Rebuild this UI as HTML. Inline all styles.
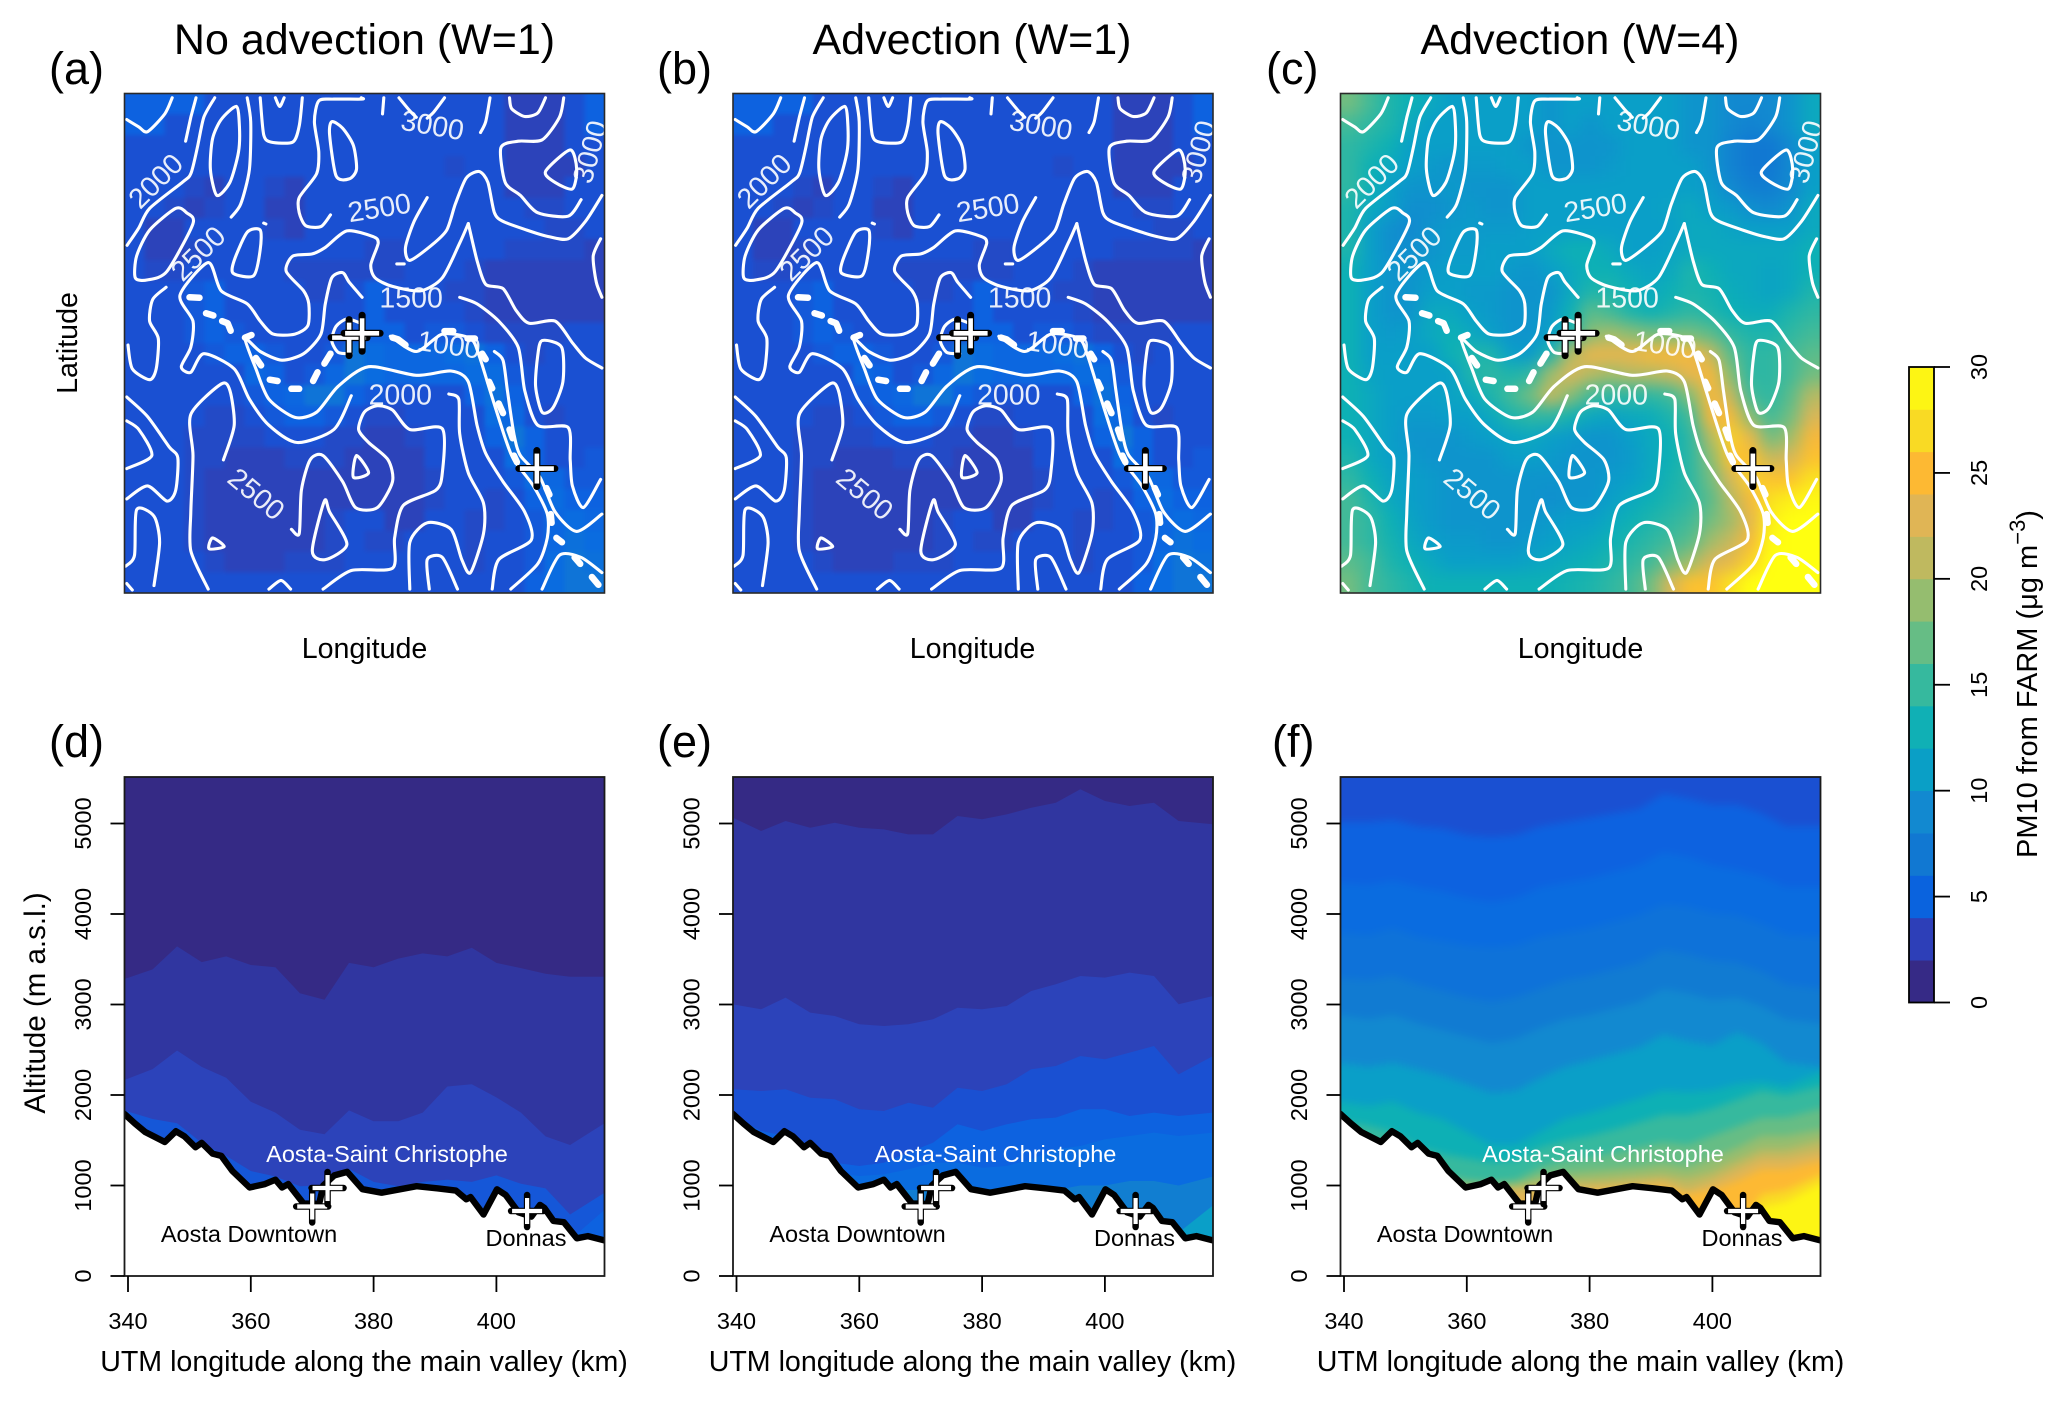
<!DOCTYPE html>
<html lang="en">
<head>
<meta charset="utf-8">
<title>PM10 from FARM: maps and valley cross-sections</title>
<style>
  html, body { margin: 0; padding: 0; background: #fff; }
  svg { display: block; font-family: "Liberation Sans", "DejaVu Sans", sans-serif; fill: #000; }
  .title { font-size: 43px; text-anchor: middle; }
  .tag { font-size: 45px; }
  .axis-title { font-size: 28.6px; text-anchor: middle; }
  .tick-text { font-size: 23.5px; text-anchor: middle; }
  .place { font-size: 23.5px; text-anchor: middle; }
</style>
</head>
<body>
<svg id="figure" xmlns="http://www.w3.org/2000/svg" width="2067" height="1401" viewBox="0 0 2067 1401">
  <defs>
    <filter id="soft-a" filterUnits="userSpaceOnUse" x="0" y="0" width="2067" height="700" color-interpolation-filters="sRGB"><feGaussianBlur stdDeviation="2.2"/></filter>
    <filter id="soft-c" filterUnits="userSpaceOnUse" x="0" y="0" width="2067" height="700" color-interpolation-filters="sRGB"><feGaussianBlur stdDeviation="8"/></filter>
    <filter id="soft-s" filterUnits="userSpaceOnUse" x="0" y="700" width="2067" height="701" color-interpolation-filters="sRGB"><feGaussianBlur stdDeviation="4"/></filter>
  </defs>

  <text class="title" x="364.5" y="54">No advection (W=1)</text>
  <text class="title" x="972" y="54">Advection (W=1)</text>
  <text class="title" x="1580" y="54">Advection (W=4)</text>

  <text class="tag" x="49" y="84">(a)</text>
  <text class="tag" x="657" y="84">(b)</text>
  <text class="tag" x="1266" y="84">(c)</text>
  <text class="tag" x="49" y="757">(d)</text>
  <text class="tag" x="657" y="757">(e)</text>
  <text class="tag" x="1272" y="757">(f)</text>

  <g id="map-a"></g>
  <g id="map-b"></g>
  <g id="map-c"></g>
  <g id="sec-d"></g>
  <g id="sec-e"></g>
  <g id="sec-f"></g>

  <text class="axis-title" x="364.5" y="658">Longitude</text>
  <text class="axis-title" x="972.5" y="658">Longitude</text>
  <text class="axis-title" x="1580.5" y="658">Longitude</text>
  <text class="axis-title" transform="translate(77 343) rotate(-90)">Latitude</text>

  <text class="axis-title" transform="translate(45 1003) rotate(-90)" style="font-size:29.5px">Altitude (m a.s.l.)</text>
  <text class="axis-title" x="364" y="1371">UTM longitude along the main valley (km)</text>
  <text class="axis-title" x="972.5" y="1371">UTM longitude along the main valley (km)</text>
  <text class="axis-title" x="1580.5" y="1371">UTM longitude along the main valley (km)</text>

  <g id="colorbar"></g>
  <text transform="translate(2037 858) rotate(-90)" style="font-size:29px">PM10 from FARM (<tspan>μ</tspan>g m<tspan dy="-12" style="font-size:22px">−3</tspan><tspan dy="12">)</tspan></text>
</svg>

<script>
/* ---------- colour scale ---------- */
const rampValues = [0, 1, 1.5, 2, 3, 4, 5, 6.5, 8, 10, 12, 14.5, 16.5, 18.5, 20.5, 22.5, 24.5, 26.5, 28.5, 30];
const rampColors = ['#352a85', '#352a85', '#3036a0', '#2c43ba', '#1a50d2', '#0d62e0', '#0a6ce0', '#1178d2', '#1289d0', '#0a9fc8', '#0db0b5', '#36b99e', '#66bd85', '#95bd6f', '#bfb95f', '#e0b555', '#fdb933', '#f9da24', '#fdf514', '#ffff10'];
const barColors = ['#362a86', '#2d3fb8', '#0a63de', '#1178d2', '#1289d0', '#0a9fc6', '#10b0b5', '#36b99e', '#66bd85', '#95bd6f', '#bfb95f', '#e0b555', '#fdb933', '#f9da24', '#fdf514'];
const barTicks = [0, 5, 10, 15, 20, 25, 30];

/* ---------- maps: PM10 value per grid cell, rows north to south ---------- */
const heatA = [
[4,4,4,4,3,3,3,3,3,3,3,3,3,3,3,3,3,3,3,2,2,2,3,4],
[4,4,3,3,3,3,3,3,3,3,3,3,3,3,3,3,3,3,3,2,2,2,3,4],
[3,3,3,3,3,3,3,3,3,3,3,3,3,3,3,3,3,3,3,2,2,2,3,3],
[3,3,3,3,3,3,3,3,3,3,3,3,3,3,3,3,2.6,3,3,2,2,2,2,3],
[3,3,3,2.5,2,3,3,2.5,2,3,3,3,3,3,3,3,3,3,3,2,2,2,3,3],
[3,3,2.5,2,2.5,3,3,2,2,3,3,3,3,3,3,3,3,3,3,3,2.5,2.5,3,3],
[3,2,2,3,3,3,3,2.5,2,3,3,3,3,3,3,3,3,3,3,3,3,2.5,2.5,3],
[3,2,2,2.5,3,3,3,3,3,3,3,3,2.5,2.5,3,3,3,3,3,2.5,2.5,2.5,2.5,2],
[3,2.5,2.5,3,3,3,3,3,2.5,2.5,2.5,2.5,2.5,2.5,3,3,3,2.5,2,2,2,2,2,2],
[3,3,3,3.5,4,3,3,3,3,2.5,2.5,3,4,3,3,3,2.5,2.5,2,2,2,2,2,2],
[3,3,3,3.5,4,3,3,3,3,3,3,3,4,3,3,3,3,2.5,2,2,2,2,2,2],
[3,3,3,3.5,4,3.5,3,3,3,3,3,3.5,4,4,3,3.5,3.5,3,2.5,2.5,2.5,2.5,3,3],
[3,3,3,3,3.5,4,4,3.5,3,3,3.5,6,5,4.5,4.5,4.5,5,5.5,4,3,2.5,3,3,3],
[3,3,3,3,3,3,4.5,4,3,3.5,4.5,6,5,4.5,4.5,4.5,4.5,5,5,3.5,3,3,3,3],
[3,3,3,3,3,3,3.5,4,4.5,6,6,4,3.5,3,3,3,3,4,5.5,4,3,3,3,3],
[3,3,3,3,2.5,2.5,3,3.5,4,4,3.5,3,2.5,2.5,3,3,3,3,5,4.5,3,2.5,3,3],
[3,3,3,2.5,2.5,2.5,2.5,3,3,3,2.5,2.5,2,2,2.5,3,3,3,4,6,4,3,3,3],
[3,3,3,2.5,2.5,2,2,2,2.5,2.5,2.5,2,2,2,2,3,3,3,3,5,4,3,3,3.5],
[3,3,3,2.5,2,2,2,2,2,2,2,2,2,2,2,2.5,3,3,3,3.5,5,4.5,3.5,3.5],
[3,3,3,2.5,2,2,2,2,2,2,2,2,2,2,2,2.5,3,3,2.5,3,4,5,4,4],
[3,3,3,2.5,2,2,2,2,2,2,2.5,3,3,2,2,3,3,2.5,2.5,3,3.5,4.5,5,4.5],
[3,3,3,2.5,2,2,2,2,2,2,2.5,3,2.5,2.5,3,3,3,2.5,3,3,3.5,4.5,5.5,5],
[3,3,3,3,2.5,2,2,2,2.5,2.5,2.5,3,3,3,3,3,3,2.5,3,3,3.5,5,6,5.5],
[3,3,3,3,3,3,3,3,3,3,3,3,3,3,3,3,3,3,3,3,4,5,6,6]
];
const heatB = heatA;
const heatC = [
[17,15,13,12,11,10,10,10,10,10,9,10,10,10,10,10,10,9,9,8,8,8,9,11],
[15,14,13,11,10,10,10,10,10,10,9,10,9,10,10,10,10,9,9,8,7.5,8,9,11],
[14,13,12,10,10,10,10,10,10,9,9,9,9,9,10,10,10,9,9,7.5,6.5,6.5,8,10],
[14,12,11,10,9.5,9,9.5,9.5,10,10,9,9,9,9.5,10,10,10,10,9,7.5,6.5,6.5,8,10],
[14,12,10,9,9,9.5,9,9,9,10,10,10,10,10,10,10,10,10,9.5,8,7,7,8,10],
[13,11,10,8.5,8.5,9,9.5,9,9,10,10,10,10,10,10,10,10.5,11,10,9.5,8.5,8,9,11],
[13,10,8.5,8,9,9.5,9.5,9.5,9.5,10,10,10,10,10,10,10,10,11,11,10.5,10,10,10,11],
[13,10,8.5,8.5,9,9.5,9.5,10,10,10,11,12,12,11,10,10,10.5,11,11,11,11,11,11,12],
[12,10,9,9,9.5,10,10,10,9.5,9,10,11,12,12,11,10.5,11,13,12,11,11,10.5,11,12],
[12,10,9,9,10,10,9.5,9.5,9,9,9,11,13,13,12,11,12,13,12.5,11.5,11,10.5,11,13],
[12,10,9,9,11,11,10,9.5,9,9,9.5,12,16,15,13,12,13,14,13,12,11.5,11.5,13,14],
[12,10,9.5,10,11,12,11,10,9,9,10,13,18,19,18,17,17,17,16,14,13,13,14,15],
[12,10,10,10,10,12,13,13,10,9.5,13,20,23,23,23,24,24,24,21,16,14,14,15,16],
[12,10.5,10,10,10,10,13,14,13,14,19,22,20,19,20,20,21,23,24,18,14,14,15,17],
[12,11,10,10,10,10.5,11,13,15,17,21,18,15,14,14,14,15,18,24,21,15,14,16,20],
[12,11,10,9.5,9.5,10,10,11,13,14,14,12.5,11,10.5,11,11.5,13,15,24,24,18,15,17,22],
[12,11,10,9,9,9,9.5,10,10.5,11,10,9.5,9,9,10,11,12,14,20,26,23,17,19,24],
[13,11,10,9.5,9,9,9,9,10,10,9.5,9,9,9,9.5,11,12,14,18,25,25,21,22,25],
[14,12,10.5,10,9.5,9,9,9,9,9,9,9,9,9.5,10,11,12.5,14,17,22,26,25,25,27],
[15,13,11,10,9.5,9,9,9,9,9,8.5,9,9,10,11,12,13,14,16,20,24,27,28,29],
[15,14,12,10.5,9.5,9,9,9,9,9,9.5,10,10,11,12,13,14,15,17,19,23,28,30,30],
[15,14,12.5,11,10,9.5,9.5,9,9,9.5,10,10.5,11,12,13,14,15,16,19,21,24,29,30,30],
[16,15,13,12,11,10,10,10,10,10.5,11,11.5,12,13,14,15,17,19,22,23,26,30,30,30],
[17,15,14,13,12,12,12,12,12,12,12,12.5,13,14,15,17,22,25,25,27,30,30,30,30]
];

/* ---------- maps: terrain contours, valley road, stations, in map trace units ---------- */
const contours = [
[[292,275],[320,292],[340,303],[380,262],[397,225]],
[[428,325],[440,270],[452,225]],
[[293,565],[320,525],[345,480],[420,420],[440,400],[455,340],[470,270],[495,225]],
[[545,245],[510,275],[490,320],[485,390],[500,450],[530,420],[550,350],[552,290],[545,245]],
[[570,225],[578,280],[575,390],[555,470],[533,500]],
[[600,225],[608,310],[625,327],[675,327],[690,290],[697,225]],
[[635,225],[645,245],[655,225]],
[[833,225],[835,228],[770,228],[735,232],[725,280],[735,350],[730,400],[690,455],[690,490],[705,520],[740,522],[762,495]],
[[765,280],[790,295],[815,335],[822,390],[805,412],[775,405],[760,310],[765,280]],
[[885,225],[882,262]],
[[920,225],[945,255],[960,270]],
[[1025,225],[1000,258],[985,272]],
[[1130,225],[1120,280],[1108,305]],
[[1175,225],[1180,250],[1210,268],[1240,260],[1258,225]],
[[1300,225],[1290,270],[1250,322],[1195,325],[1155,340],[1165,420],[1200,450],[1240,490],[1310,498],[1340,460]],
[[1315,345],[1258,395],[1280,420],[1320,435],[1330,390],[1315,345]],
[[1388,450],[1350,510],[1310,550],[1265,545],[1215,530],[1160,510],[1140,490],[1125,420],[1105,395],[1075,410],[1050,470],[1030,530],[995,565],[945,600],[935,570],[955,510],[985,455]],
[[915,608],[932,608]],
[[405,480],[345,530],[315,590],[312,640],[340,645],[385,625],[445,515],[430,490],[405,480]],
[[608,514],[613,516]],
[[600,530],[570,535],[540,600],[538,630],[585,635],[600,575],[600,530]],
[[1080,515],[1060,560],[1020,640],[970,670],[905,660],[865,640],[855,610],[872,560],[860,545],[800,532],[750,570],[720,585],[675,590],[660,625],[700,670],[712,700],[710,750],[680,770],[630,770],[600,740],[570,700],[510,670],[480,605],[415,680],[445,740],[440,800],[418,845],[440,858],[470,815],[540,850],[575,920],[620,980],[685,1020],[770,990],[810,912]],
[[1080,515],[1100,600],[1120,655],[1160,665],[1190,715],[1220,745],[1280,740],[1320,790],[1350,825],[1388,848]],
[[835,685],[805,650],[790,628],[765,640],[750,700],[740,770],[700,815],[650,830],[600,810],[565,780],[590,850],[620,920],[680,962],[730,950],[780,890],[850,845],[960,865],[1040,855],[1080,880],[1100,980],[1120,1045],[1160,1110],[1210,1180],[1225,1245],[1150,1290],[1135,1358]],
[[1035,908],[1058,920],[1060,1000],[1080,1090],[1115,1160],[1115,1230],[1085,1320],[1065,1290],[1040,1220],[985,1205],[945,1250],[945,1358]],
[[1060,685],[1100,700],[1150,740],[1195,800],[1210,900],[1240,980],[1310,985],[1315,1060],[1320,1120],[1345,1170],[1385,1105]],
[[1140,810],[1160,830],[1170,900],[1185,1000],[1200,1050],[1245,1100],[1280,1180],[1330,1225],[1388,1185]],
[[900,775],[960,810],[1020,770],[1085,780],[1105,820],[1130,900],[1165,1010],[1185,1060],[1230,1120],[1262,1185],[1262,1240],[1240,1300],[1178,1358]],
[[1250,785],[1295,800],[1298,880],[1275,940],[1250,950],[1235,890],[1240,820],[1250,785]],
[[1385,550],[1368,590],[1375,650],[1388,685]],
[[383,662],[352,690],[345,740],[365,780],[360,850],[345,875],[305,850],[295,795]],
[[292,915],[340,960],[390,1030],[410,1055],[405,1130],[385,1155],[340,1120],[292,1150]],
[[292,970],[320,990],[350,1050],[292,1080]],
[[290,1305],[310,1280],[315,1175],[355,1190],[368,1250],[355,1350]],
[[292,1345],[305,1360]],
[[480,1358],[440,1270],[440,1180],[445,1050],[440,955],[510,885],[530,900],[540,980],[515,1060]],
[[822,1050],[815,1100],[850,1090],[822,1050]],
[[490,1240],[482,1265],[517,1260],[490,1240]],
[[748,1155],[720,1270],[750,1290],[800,1255],[760,1180],[748,1155]],
[[672,1220],[690,1230],[695,1130],[715,1060],[745,1050],[790,1110],[820,1170],[870,1170],[905,1110],[895,1060],[850,1020],[827,990],[840,950],[870,935],[905,945],[945,990],[1020,988],[1020,1090],[1005,1130],[930,1165],[910,1240],[905,1310],[810,1315],[745,1358]],
[[990,1358],[985,1290],[1020,1285],[1055,1358]],
[[620,1358],[648,1338],[670,1358]],
[[1250,1358],[1290,1280],[1340,1285],[1388,1320]],
[[832,745],[800,735],[775,752],[765,785],[780,812],[810,815]]
];
const roadDashes = [
[[437,685],[460,686]],[[475,722],[492,727]],[[512,740],[525,745],[532,762]],[[565,778],[580,772]],
[[590,825],[602,842]],[[622,875],[640,878]],[[672,896],[690,896]],[[722,878],[732,858]],[[748,838],[762,815]],
[[905,778],[918,782],[935,795]],[[1025,763],[1045,763]],[[1078,780],[1095,780]],[[1112,815],[1120,828]],
[[1128,880],[1135,895]],[[1150,930],[1160,952]],[[1175,990],[1182,1010]],[[1185,1050],[1192,1065]],
[[1260,1125],[1267,1140]],[[1270,1185],[1272,1205]],[[1283,1240],[1296,1250]],[[1325,1285],[1338,1300]],[[1365,1330],[1380,1348]]
];
const contourLabelText = ['2000', '2500', '3000', '3000', '2500', '1500', '1000', '2000', '2500'];
const contourLabelLon = [360, 875, 997, 1362, 458, 948, 1035, 923, 590];
const contourLabelLat = [418, 480, 290, 350, 585, 688, 796, 911, 1140];
const contourLabelAngle = [-45, -9, 10, -75, -45, 0, 8, 0, 40];
const stationLon = [805, 835, 1238];
const stationLat = [778, 768, 1080];

/* ---------- sections: altitude of each colour-band top at each km position ---------- */
const sectionKm = [339.4, 344, 348, 352, 356, 360, 364, 368, 372, 376, 380, 384, 388, 392, 396, 400, 404, 408, 412, 417.6];
const terrainKm = [339.4,341.1,342.8,344.2,346,347.8,349.2,351,352,353.8,355.2,357,359.8,362.3,364,365.1,366.1,368.6,370.4,371.1,371.8,373.6,375.7,378.2,381.3,387,390.5,393.4,395.1,395.8,397.9,400.1,401.5,403.6,405.7,407.1,407.8,409.3,411,413.1,414.9,417.6];
const terrainAlt = [1792,1686,1591,1543,1481,1600,1543,1423,1471,1351,1327,1160,978,1016,1064,978,1016,800,800,790,1000,1112,1150,959,920,992,968,944,848,872,680,958,896,704,656,786,752,608,594,417,441,393];

const dLevels = [1.5, 2, 3.4, 4];
const dTops = [
[3282,3388,3642,3469,3531,3436,3412,3124,3052,3460,3412,3507,3565,3531,3627,3460,3402,3340,3306,3306],
[2166,2286,2492,2310,2190,1926,1806,1615,1567,1830,1711,1711,1806,2094,2118,1974,1806,1543,1447,1687],
[1830,1735,1687,1471,1327,1160,1100,992,1000,1183,1040,992,1040,1064,1040,1112,1020,968,680,920],
[0,0,0,0,0,0,0,0,0,0,0,0,0,0,0,0,0,0,400,730]
];
const eLevels = [1.5, 2, 3, 4, 5, 7, 10];
const eTops = [
[5064,4917,5028,4954,5009,4954,4935,4880,4880,5083,5046,5101,5175,5230,5378,5249,5193,5230,5028,4991],
[3002,2947,3076,2910,2873,2781,2762,2781,2836,2965,2947,2983,3149,3223,3315,3297,3352,3315,3002,3094],
[2063,2044,2063,1970,1952,1842,1823,1915,1860,2081,2044,2118,2284,2320,2431,2394,2468,2541,2228,2431],
[1768,1602,1547,1455,1252,1215,1252,1363,1473,1676,1602,1676,1731,1750,1842,1842,1768,1805,1768,1805],
[1547,1400,1326,1252,1142,1105,1123,1179,1252,1252,1197,1215,1289,1400,1436,1510,1547,1584,1547,1584],
[500,500,500,500,500,900,950,950,950,900,850,850,920,950,1000,1000,1050,1050,1000,1100],
[0,0,0,0,0,0,0,0,0,0,0,0,0,0,0,0,0,300,480,780]
];
const fLevels = [4, 5, 5.8, 6.8, 8, 10, 12, 14.5, 16.5, 18.5, 20.5, 22.5, 24.5, 26.5, 28.5];
const fTops = [
[5017,5017,5041,4969,4945,4873,4850,4873,4969,5017,5065,5113,5160,5328,5280,5208,5208,5113,4969,4969],
[4346,4322,4370,4298,4250,4178,4130,4178,4298,4346,4394,4466,4538,4681,4633,4538,4490,4418,4298,4298],
[3795,3771,3843,3747,3699,3651,3627,3651,3747,3795,3843,3915,3987,4106,4082,4010,3987,3891,3771,3747],
[3292,3268,3316,3220,3148,3076,3028,3076,3172,3268,3316,3387,3459,3603,3555,3483,3459,3364,3220,3172],
[2884,2837,2884,2789,2717,2645,2573,2621,2741,2837,2884,2956,3028,3172,3124,3052,3076,2980,2837,2789],
[2357,2310,2357,2286,2214,2118,2022,2046,2190,2310,2381,2453,2525,2669,2597,2549,2693,2573,2357,2310],
[1926,1878,1926,1806,1735,1591,1447,1447,1591,1735,1800,1880,1960,2050,2030,2050,2120,2150,2100,2250],
[1711,1663,1591,1423,1351,1303,1255,1279,1423,1500,1550,1620,1700,1780,1780,1850,1950,2050,2000,2100],
[1351,1351,1303,1160,1112,1064,1040,1064,1207,1280,1300,1360,1420,1480,1450,1550,1650,1750,1750,1850],
[1160,1160,1112,1064,1040,1016,992,1016,1112,1136,1160,1180,1200,1240,1200,1300,1420,1550,1550,1620],
[1064,1064,1040,1040,1016,1000,1000,1000,1040,1060,1060,1080,1100,1120,1080,1150,1280,1400,1400,1500],
[900,900,900,900,900,900,950,950,960,980,1000,1000,1030,1060,950,1050,1180,1300,1300,1380],
[500,500,500,500,500,500,500,800,800,800,900,950,980,980,900,950,1050,1180,1180,1270],
[0,0,0,0,0,0,0,0,0,0,0,0,0,0,0,0,500,900,950,1120],
[0,0,0,0,0,0,0,0,0,0,0,0,0,0,0,0,0,760,820,1020]
];

const kmTicks = [340, 360, 380, 400];
const altTicks = [0, 1000, 2000, 3000, 4000, 5000];
const crossKm = [370, 372.5, 405];
const crossAlt = [768, 972, 718];

/* ---------- layout constants and axis functions ---------- */
const NS = 'http://www.w3.org/2000/svg';
const MAP_W = 480, MAP_TOP = 93.5, MAP_H = 499.5, CELLS = 24;
const SEC_TOP = 777, SEC_BOTTOM = 1276;

function lonX(panelX, lon) { return panelX + (lon - 287) / 1107 * MAP_W; }
function latY(lat) { return MAP_TOP + (lat - 215) / 1152 * MAP_H; }
function kmX(panelX, km) { return panelX + 3.5 + (km - 340) * 6.14; }
function altY(alt) { return SEC_BOTTOM - alt * 0.0905; }

function hexToRgb(h) { return [parseInt(h.slice(1,3),16), parseInt(h.slice(3,5),16), parseInt(h.slice(5,7),16)]; }
function valueColor(v) {
  if (v <= rampValues[0]) return rampColors[0];
  for (let i = 1; i < rampValues.length; i++) {
    if (v <= rampValues[i]) {
      const t = (v - rampValues[i-1]) / (rampValues[i] - rampValues[i-1]);
      const a = hexToRgb(rampColors[i-1]), b = hexToRgb(rampColors[i]);
      return 'rgb(' + a.map((c, k) => Math.round(c + (b[k] - c) * t)).join(',') + ')';
    }
  }
  return rampColors[rampColors.length - 1];
}
function make(tag, attrs, parent) {
  const el = document.createElementNS(NS, tag);
  for (const k in attrs) el.setAttribute(k, attrs[k]);
  parent.appendChild(el);
  return el;
}
function addClip(id, x, y, w, h) {
  const defs = document.querySelector('defs');
  const cp = make('clipPath', { id: id }, defs);
  make('rect', { x: x, y: y, width: w, height: h }, cp);
}
function smoothPath(pts) {
  if (pts.length < 3) return 'M' + pts.map(p => p[0].toFixed(1) + ' ' + p[1].toFixed(1)).join('L');
  const closed = pts[0][0] === pts[pts.length-1][0] && pts[0][1] === pts[pts.length-1][1];
  const n = pts.length;
  const at = i => {
    if (closed) return pts[(i + n - 1) % (n - 1)];
    return pts[Math.max(0, Math.min(n - 1, i))];
  };
  let d = 'M' + pts[0][0].toFixed(1) + ' ' + pts[0][1].toFixed(1);
  for (let i = 0; i < n - 1; i++) {
    const p0 = at(i - 1), p1 = pts[i], p2 = pts[i + 1], p3 = at(i + 2);
    const k = 0.13;
    const c1x = p1[0] + (p2[0] - p0[0]) * k, c1y = p1[1] + (p2[1] - p0[1]) * k;
    const c2x = p2[0] - (p3[0] - p1[0]) * k, c2y = p2[1] - (p3[1] - p1[1]) * k;
    d += 'C' + c1x.toFixed(1) + ' ' + c1y.toFixed(1) + ' ' + c2x.toFixed(1) + ' ' + c2y.toFixed(1) + ' ' + p2[0].toFixed(1) + ' ' + p2[1].toFixed(1);
  }
  return d;
}
function drawCross(parent, cx, cy, arm, blackW, whiteW) {
  const g = make('g', {}, parent);
  
  
  const black = { stroke: '#000', 'stroke-width': blackW, 'stroke-linecap': 'round', fill: 'none' };
  const white = { stroke: '#fff', 'stroke-width': whiteW, 'stroke-linecap': 'butt', fill: 'none' };
  make('line', Object.assign({ x1: cx - arm, y1: cy, x2: cx + arm, y2: cy }, black), g);
  make('line', Object.assign({ x1: cx, y1: cy - arm, x2: cx, y2: cy + arm }, black), g);
  make('line', Object.assign({ x1: cx - arm + 1, y1: cy, x2: cx + arm - 1, y2: cy }, white), g);
  make('line', Object.assign({ x1: cx, y1: cy - arm + 3, x2: cx, y2: cy + arm - 3 }, white), g);
}

/* ---------- map panels ---------- */
function drawMap(id, panelX, heat, filterId) {
  const root = document.getElementById(id);
  addClip('clip-' + id, panelX, MAP_TOP, MAP_W, MAP_H);
  const clipped = make('g', { 'clip-path': 'url(#clip-' + id + ')' }, root);
  const cellsG = make('g', { filter: 'url(#' + filterId + ')' }, clipped);
  
  
  const cw = MAP_W / CELLS, ch = MAP_H / CELLS;
  heat.forEach((row, r) => {
    row.forEach((v, c) => {
      const pad = 40;
      const x0 = panelX + c * cw - (c === 0 ? pad : 0);
      const x1 = panelX + (c + 1) * cw + (c === CELLS - 1 ? pad : 0) + 0.4;
      const y0 = MAP_TOP + r * ch - (r === 0 ? pad : 0);
      const y1 = MAP_TOP + (r + 1) * ch + (r === CELLS - 1 ? pad : 0) + 0.4;
      const cell = make('rect', { x: x0, y: y0, width: x1 - x0, height: y1 - y0, fill: valueColor(v) }, cellsG);
      
      
    });
  });
  contours.forEach(line => {
    const pts = line.map(p => [lonX(panelX, p[0]), latY(p[1])]);
    const pl = make('path', { d: smoothPath(pts), fill: 'none', stroke: '#fff', 'stroke-width': 3.1, 'stroke-linejoin': 'round', 'stroke-linecap': 'round' }, clipped);
    
    
  });
  roadDashes.forEach(line => {
    const pts = line.map(p => lonX(panelX, p[0]).toFixed(1) + ',' + latY(p[1]).toFixed(1)).join(' ');
    const pl = make('polyline', { points: pts, fill: 'none', stroke: '#fff', 'stroke-width': 6.5, 'stroke-linejoin': 'round', 'stroke-linecap': 'round' }, clipped);
    
    
  });
  contourLabelText.forEach((t, i) => {
    const x = lonX(panelX, contourLabelLon[i]), y = latY(contourLabelLat[i]);
    const label = make('text', { transform: 'translate(' + x + ' ' + y + ') rotate(' + contourLabelAngle[i] + ')', 'text-anchor': 'middle', 'dominant-baseline': 'central', 'font-size': 28.5, fill: '#fff', 'fill-opacity': 0.9 }, clipped);
    label.textContent = t;
    
    
  });
  stationLon.forEach((lon, i) => {
    drawCross(root, lonX(panelX, lon), latY(stationLat[i]), 18, 7, 4.6);
  });
  const frame = make('rect', { x: panelX, y: MAP_TOP, width: MAP_W, height: MAP_H, fill: 'none', stroke: '#2a2a2a', 'stroke-width': 1.6 }, root);
  
  
}

/* ---------- section panels ---------- */
function drawSection(id, panelX, baseLevel, levels, tops, filterId) {
  const root = document.getElementById(id);
  const pad = 40;
  addClip('clip-' + id, panelX, SEC_TOP, MAP_W, SEC_BOTTOM - SEC_TOP);
  const clipped = make('g', { 'clip-path': 'url(#clip-' + id + ')' }, root);
  const bands = make('g', {}, clipped);
  if (filterId) bands.setAttribute('filter', 'url(#' + filterId + ')');
  
  
  const bg = make('rect', { x: panelX - pad, y: SEC_TOP - pad, width: MAP_W + 2 * pad, height: SEC_BOTTOM - SEC_TOP + 2 * pad, fill: valueColor(baseLevel) }, bands);
  
  
  tops.forEach((row, b) => {
    let pts = row.map((a, i) => kmX(panelX, sectionKm[i]).toFixed(1) + ',' + altY(a).toFixed(1));
    pts.push((panelX + MAP_W + pad) + ',' + altY(row[row.length - 1]).toFixed(1));
    pts.push((panelX + MAP_W + pad) + ',' + (SEC_BOTTOM + pad));
    pts.push((panelX - pad) + ',' + (SEC_BOTTOM + pad));
    pts.push((panelX - pad) + ',' + altY(row[0]).toFixed(1));
    const poly = make('polygon', { points: pts.join(' '), fill: valueColor(levels[b]) }, bands);
    
    
  });
  const ground = terrainKm.map((k, i) => kmX(panelX, k).toFixed(1) + ',' + altY(terrainAlt[i]).toFixed(1));
  const fillPts = ground.concat([(panelX + MAP_W + 5) + ',' + altY(terrainAlt[terrainAlt.length - 1]).toFixed(1), (panelX + MAP_W + 5) + ',' + (SEC_BOTTOM + 5), (panelX - 5) + ',' + (SEC_BOTTOM + 5), (panelX - 5) + ',' + altY(terrainAlt[0]).toFixed(1)]);
  const groundFill = make('polygon', { points: fillPts.join(' '), fill: '#fff' }, clipped);
  
  
  const groundLine = make('polyline', { points: ground.join(' '), fill: 'none', stroke: '#000', 'stroke-width': 6.4, 'stroke-linejoin': 'round', 'stroke-linecap': 'round' }, clipped);
  
  

  const frame = make('rect', { x: panelX, y: SEC_TOP, width: MAP_W, height: SEC_BOTTOM - SEC_TOP, fill: 'none', stroke: '#1a1a1a', 'stroke-width': 1.8 }, root);
  
  

  kmTicks.forEach(k => {
    const x = kmX(panelX, k);
    const tick = make('line', { x1: x, y1: SEC_BOTTOM, x2: x, y2: SEC_BOTTOM + 16, stroke: '#000', 'stroke-width': 1.8 }, root);
    
    
    const label = make('text', { class: 'tick-text', x: x, y: 1329 }, root);
    label.textContent = k;
    
    
  });
  altTicks.forEach(a => {
    const y = altY(a);
    const tick = make('line', { x1: panelX - 14, y1: y, x2: panelX, y2: y, stroke: '#000', 'stroke-width': 1.8 }, root);
    
    
    const label = make('text', { class: 'tick-text', transform: 'translate(' + (panelX - 33.5) + ' ' + y + ') rotate(-90)' }, root);
    label.textContent = a;
    
    
  });
  crossKm.forEach((k, i) => {
    drawCross(root, kmX(panelX, k), altY(crossAlt[i]), 16, 6.5, 4.2);
  });
  const cx = panelX - 124.5;
  const aostaSc = make('text', { class: 'place', x: cx + 387, y: 1162, fill: '#fff' }, root);
  aostaSc.textContent = 'Aosta-Saint Christophe';
  
  
  const aostaDt = make('text', { class: 'place', x: cx + 249, y: 1242 }, root);
  aostaDt.textContent = 'Aosta Downtown';
  
  
  const donnas = make('text', { class: 'place', x: cx + 526, y: 1246 }, root);
  donnas.textContent = 'Donnas';
  
  
}

/* ---------- colour bar ---------- */
function drawBar() {
  const root = document.getElementById('colorbar');
  const x0 = 1909, x1 = 1934, yTop = 367, yBottom = 1002.5;
  const barY = v => yBottom - v / 30 * (yBottom - yTop);
  barColors.forEach((c, i) => {
    const y = barY((i + 1) * 2), h = barY(i * 2) - y;
    const seg = make('rect', { x: x0, y: y, width: x1 - x0, height: h + 0.4, fill: c }, root);
    
    
  });
  const border = make('rect', { x: x0, y: yTop, width: x1 - x0, height: yBottom - yTop, fill: 'none', stroke: '#000', 'stroke-width': 1.8 }, root);
  
  
  barTicks.forEach(v => {
    const y = barY(v);
    const tick = make('line', { x1: x1, y1: y, x2: 1950, y2: y, stroke: '#000', 'stroke-width': 1.8 }, root);
    
    
    const label = make('text', { class: 'tick-text', transform: 'translate(1987 ' + y + ') rotate(-90)' }, root);
    label.textContent = v;
    
    
  });
}

drawMap('map-a', 124.5, heatA, 'soft-a');
drawMap('map-b', 733, heatB, 'soft-a');
drawMap('map-c', 1340.5, heatC, 'soft-c');
drawSection('sec-d', 124.5, 0, dLevels, dTops, null);
drawSection('sec-e', 733, 0, eLevels, eTops, null);
drawSection('sec-f', 1340.5, 3, fLevels, fTops, 'soft-s');
drawBar();
</script>
</body>
</html>
